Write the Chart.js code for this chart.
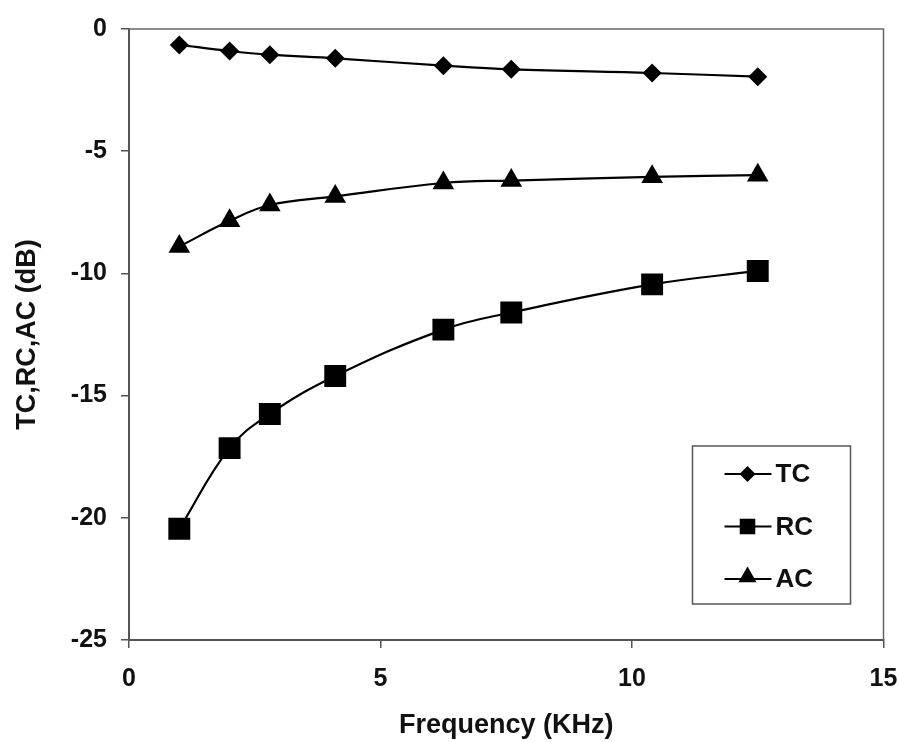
<!DOCTYPE html>
<html>
<head>
<meta charset="utf-8">
<script src="https://cdn.jsdelivr.net/npm/chart.js@4/dist/chart.umd.min.js"></script>
<style>
  html, body { margin: 0; padding: 0; background: #fff; }
  #wrap { width: 899px; height: 742px; position: relative; }
</style>
</head>
<body>
<div id="wrap"><canvas id="c" width="899" height="742"></canvas></div>
<script>
// ---- data ----
const frequency = [1, 2, 2.8, 4.1, 6.25, 7.6, 10.4, 12.5];
const tcValues  = [-0.65, -0.9, -1.05, -1.2, -1.5, -1.65, -1.8, -1.95];
const rcValues  = [-20.45, -17.15, -15.75, -14.2, -12.3, -11.6, -10.45, -9.9];
const acValues  = [-8.9, -7.85, -7.2, -6.85, -6.3, -6.2, -6.05, -5.98];
const seriesNames = ['TC', 'RC', 'AC'];
const xTicks = [0, 5, 10, 15];
const yTicks = [-25, -20, -15, -10, -5, 0];

const FONT = "'Liberation Sans', Arial, sans-serif";
const toPts = (xs, ys) => xs.map((x, i) => ({ x: x, y: ys[i] }));

function drawMarker(ctx, style, x, y, r) {
  ctx.beginPath();
  if (style === 'rectRot') {
    ctx.moveTo(x, y - r); ctx.lineTo(x + r, y); ctx.lineTo(x, y + r); ctx.lineTo(x - r, y);
  } else if (style === 'rect') {
    const s = r * Math.SQRT1_2;
    ctx.rect(x - s, y - s, 2 * s, 2 * s);
  } else {
    const h = Math.sin(Math.PI / 3) * r;
    ctx.moveTo(x, y - r); ctx.lineTo(x + h, y + r / 2); ctx.lineTo(x - h, y + r / 2);
  }
  ctx.closePath();
  ctx.fill();
}

const framePlugin = {
  id: 'frame',
  afterDraw(chart) {
    const { ctx, chartArea: a } = chart;
    ctx.save();
    ctx.strokeStyle = '#666';
    ctx.lineWidth = 1.5;
    ctx.beginPath();
    ctx.moveTo(a.left, a.top); ctx.lineTo(a.right, a.top); ctx.lineTo(a.right, a.bottom);
    ctx.stroke();
    ctx.restore();
  }
};

const legendPlugin = {
  id: 'boxLegend',
  afterDraw(chart) {
    const { ctx, chartArea: a } = chart;
    const bx = a.right - 191, by = a.top + 417, bw = 158, bh = 158;
    ctx.save();
    ctx.fillStyle = '#fff';
    ctx.fillRect(bx, by, bw, bh);
    ctx.strokeStyle = '#555';
    ctx.lineWidth = 1.5;
    ctx.strokeRect(bx, by, bw, bh);
    const legendR = { rectRot: 8, rect: 11, triangle: 10.5 };
    chart.data.datasets.forEach((ds, i) => {
      const y = by + 28 + i * 52.5;
      ctx.strokeStyle = '#000';
      ctx.lineWidth = 2;
      ctx.beginPath();
      ctx.moveTo(bx + 32, y); ctx.lineTo(bx + 79, y);
      ctx.stroke();
      ctx.fillStyle = '#000';
      drawMarker(ctx, ds.pointStyle, bx + 55, y + (ds.pointStyle === 'triangle' ? -2 : 0), legendR[ds.pointStyle]);
      ctx.fillStyle = '#111';
      ctx.font = 'bold 26px ' + FONT;
      ctx.textBaseline = 'middle';
      ctx.textAlign = 'left';
      ctx.fillText(ds.label, bx + 83, y + 1);
    });
    ctx.restore();
  }
};

const common = { borderColor: '#000', backgroundColor: '#000', borderWidth: 2.2,
  pointBackgroundColor: '#000', pointBorderColor: '#000', pointBorderWidth: 0,
  tension: 0.4, fill: false };

new Chart(document.getElementById('c'), {
  type: 'line',
  data: {
    datasets: [
      Object.assign({ label: seriesNames[0], data: toPts(frequency, tcValues), pointStyle: 'rectRot', pointRadius: 9.5 }, common),
      Object.assign({ label: seriesNames[1], data: toPts(frequency, rcValues), pointStyle: 'rect', pointRadius: 15.5 }, common),
      Object.assign({ label: seriesNames[2], data: toPts(frequency, acValues), pointStyle: 'triangle', pointRadius: 12.5 }, common)
    ]
  },
  options: {
    responsive: false,
    animation: false,
    devicePixelRatio: 1,
    layout: { padding: { top: 25, right: 15, bottom: 0, left: 0 } },
    plugins: { legend: { display: false }, tooltip: { enabled: false } },
    scales: {
      x: {
        type: 'linear', min: 0, max: 15,
        afterBuildTicks: (s) => { s.ticks = xTicks.map(v => ({ value: v })); },
        afterFit: (s) => { s.height = 102; s.paddingLeft = 0; s.paddingRight = 0; },
        grid: { display: true, drawOnChartArea: false, drawTicks: true, tickLength: 8, color: '#555', lineWidth: 1.5 },
        border: { display: true, color: '#555', width: 2 },
        ticks: { color: '#111', padding: 16, font: { family: FONT, size: 25, weight: 'bold' }, maxRotation: 0 },
        title: { display: true, text: 'Frequency (KHz)', color: '#111', padding: { top: 0, bottom: 0 },
                 font: { family: FONT, size: 27, weight: 'bold' } }
      },
      y: {
        type: 'linear', min: -25, max: 0,
        afterBuildTicks: (s) => { s.ticks = yTicks.map(v => ({ value: v })); },
        afterFit: (s) => { s.width = 129; },
        grid: { display: true, drawOnChartArea: false, drawTicks: true, tickLength: 8, color: '#555', lineWidth: 1.5 },
        border: { display: true, color: '#555', width: 2 },
        ticks: { color: '#111', padding: 14, font: { family: FONT, size: 25, weight: 'bold' } },
        title: { display: true, text: 'TC,RC,AC (dB)', color: '#111', padding: { top: 11, bottom: 0 },
                 font: { family: FONT, size: 27, weight: 'bold' } }
      }
    }
  },
  plugins: [framePlugin, legendPlugin]
});
</script>
</body>
</html>
